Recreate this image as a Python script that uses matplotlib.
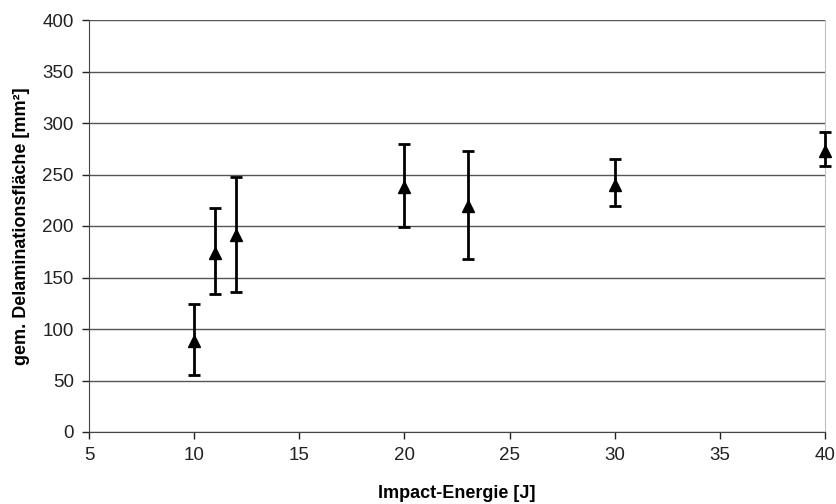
import matplotlib
matplotlib.use("Agg")
import matplotlib.pyplot as plt
import numpy as np

energy = [10, 11, 12, 20, 23, 30, 40]
area = [88, 174, 191, 238, 219, 240, 273]
err_low = [55, 134, 136, 199, 168, 219, 258]
err_high = [124, 217, 248, 280, 273, 265, 291]

x_ticks = [5, 10, 15, 20, 25, 30, 35, 40]
y_ticks = [0, 50, 100, 150, 200, 250, 300, 350, 400]

plt.rcParams['font.family'] = ['Liberation Sans', 'DejaVu Sans']

fig = plt.figure(figsize=(8.37, 5.04), dpi=100)
ax = fig.add_axes([89/837, 72/504, (825-89)/837, (432-20)/504])

a = np.array(area)
yerr = [a - np.array(err_low), np.array(err_high) - a]
eb = ax.errorbar(energy, area, yerr=yerr, fmt='^', color='black', ms=8,
                 ecolor='black', elinewidth=2, capsize=4.5, capthick=2, zorder=3)
for artist in [eb.lines[0], *eb.lines[1], *eb.lines[2]]:
    artist.set_clip_on(False)

ax.set_xlim(5, 40)
ax.set_ylim(0, 400)
ax.set_xticks(x_ticks)
ax.set_yticks(y_ticks)
ax.tick_params(labelsize=13.5, colors='#222222', direction='out', length=5, width=1)
ax.tick_params(axis='x', pad=6)
ax.tick_params(axis='y', pad=6)
ax.yaxis.grid(True, color='#555555', linewidth=1)
ax.set_axisbelow(True)
ax.spines['top'].set_visible(False)
ax.spines['right'].set_color('#c0c0c0')
ax.spines['left'].set_color('#444444')
ax.spines['bottom'].set_color('#444444')

ax.set_xlabel('Impact-Energie [J]', fontsize=13, fontweight='bold', labelpad=15)
ax.set_ylabel('gem. Delaminationsfläche [mm²]', fontsize=13, fontweight='bold', labelpad=9)

fig.savefig('out.png', dpi=100)
